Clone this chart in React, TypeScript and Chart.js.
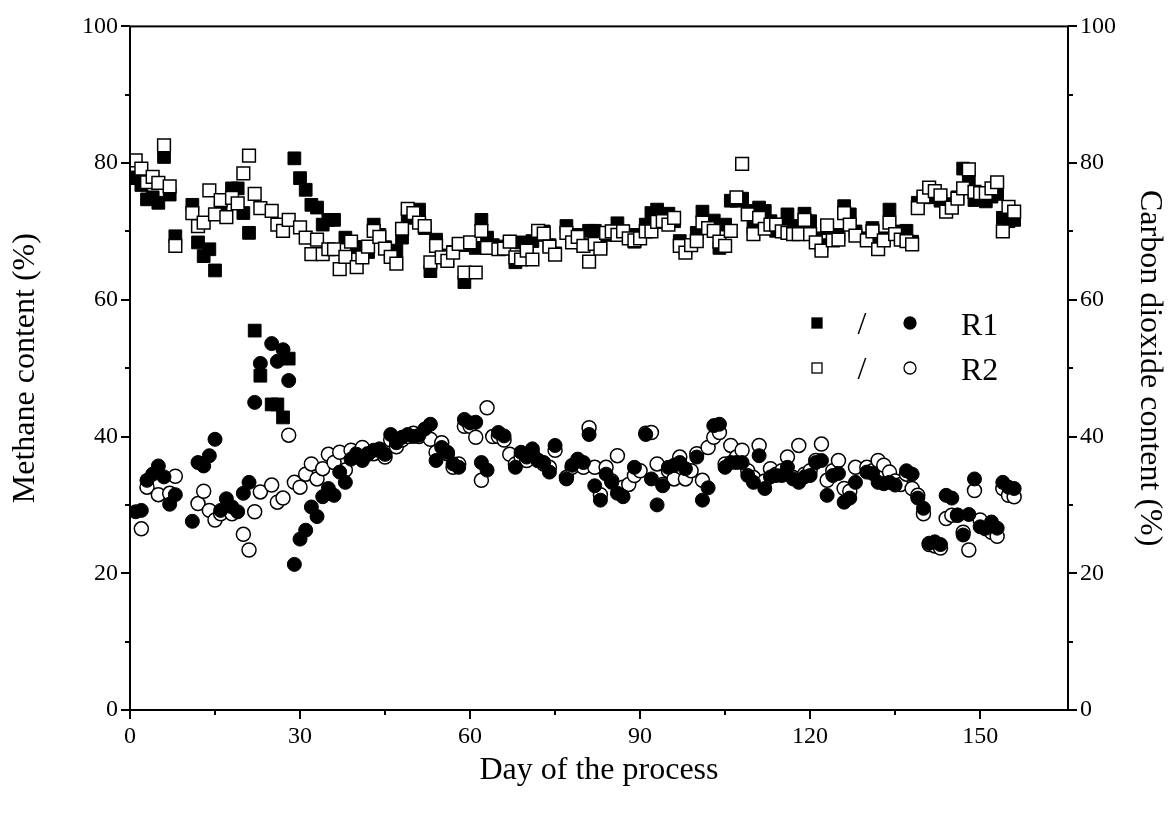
import React, { useEffect, useRef } from "react";
import { Chart, registerables } from "chart.js";

Chart.register(...registerables);

// ---- Data (day of the process, content in %) ----
const r1MethaneDays = [0, 1, 2, 3, 4, 5, 6, 7, 8, 11, 12, 13, 14, 15, 16, 18, 19, 20, 21, 22, 23, 25, 26, 27, 28, 29, 30, 31, 32, 33, 34, 35, 36, 38, 40, 41, 42, 43, 44, 45, 46, 47, 48, 49, 50, 51, 52, 53, 54, 55, 56, 57, 58, 59, 60, 61, 62, 63, 64, 65, 66, 67, 68, 69, 70, 71, 72, 73, 74, 75, 77, 78, 79, 80, 81, 82, 83, 84, 85, 86, 87, 88, 89, 90, 91, 92, 93, 94, 95, 96, 97, 98, 99, 100, 101, 102, 103, 104, 105, 106, 107, 108, 109, 110, 111, 112, 113, 114, 115, 116, 117, 118, 119, 120, 121, 122, 123, 124, 125, 126, 127, 128, 130, 131, 132, 133, 134, 135, 136, 137, 138, 139, 140, 141, 142, 143, 144, 145, 146, 147, 148, 149, 150, 151, 152, 153, 154, 155, 156];
const r1MethaneValues = [77.8, 77.9, 76.8, 74.7, 75.0, 74.2, 80.9, 75.4, 69.3, 73.9, 68.4, 66.4, 67.4, 64.3, 73.4, 76.3, 76.3, 72.7, 69.8, 55.5, 48.9, 44.7, 44.7, 42.8, 51.4, 80.7, 77.8, 76.1, 73.9, 73.5, 71.0, 71.7, 71.7, 69.1, 67.7, 67.7, 67.0, 71.0, 69.5, 67.7, 66.5, 67.2, 69.1, 72.0, 72.5, 73.2, 70.5, 64.2, 68.8, 66.5, 65.8, 67.0, 68.0, 62.6, 68.0, 67.6, 71.7, 69.1, 68.0, 67.8, 67.5, 68.5, 65.5, 68.4, 67.0, 68.6, 69.5, 70.0, 68.0, 66.8, 70.8, 68.5, 69.5, 68.0, 70.1, 70.1, 68.0, 69.5, 70.0, 71.2, 70.0, 69.5, 68.5, 69.5, 71.0, 72.7, 73.2, 71.5, 72.6, 71.5, 68.6, 67.5, 68.0, 69.8, 72.9, 70.5, 71.6, 67.6, 71.0, 74.5, 74.5, 74.8, 73.0, 70.5, 73.5, 73.0, 71.5, 70.1, 71.0, 72.5, 70.8, 70.0, 72.6, 71.5, 69.0, 68.0, 70.5, 69.0, 69.5, 73.7, 72.5, 70.0, 69.0, 70.5, 68.0, 69.0, 73.2, 70.0, 69.0, 70.1, 68.5, 74.2, 75.0, 75.5, 75.0, 74.5, 73.5, 74.0, 75.0, 79.2, 77.7, 74.6, 75.0, 74.4, 75.1, 75.5, 72.0, 71.5, 71.7];

const r2MethaneDays = [1, 2, 3, 4, 5, 6, 7, 8, 11, 12, 13, 14, 15, 16, 17, 18, 19, 20, 21, 22, 23, 25, 26, 27, 28, 30, 31, 32, 33, 34, 35, 36, 37, 38, 39, 40, 41, 42, 43, 44, 45, 46, 47, 48, 49, 50, 51, 52, 53, 54, 55, 56, 57, 58, 59, 60, 61, 62, 63, 65, 66, 67, 68, 69, 70, 71, 72, 73, 74, 75, 77, 78, 79, 80, 81, 82, 83, 84, 85, 86, 87, 88, 89, 90, 91, 92, 93, 94, 95, 96, 97, 98, 99, 100, 101, 102, 103, 104, 105, 106, 107, 108, 109, 110, 111, 112, 113, 114, 115, 116, 117, 118, 119, 120, 121, 122, 123, 124, 125, 126, 127, 128, 130, 131, 132, 133, 134, 135, 136, 137, 138, 139, 140, 141, 142, 143, 144, 145, 146, 147, 148, 149, 150, 151, 152, 153, 154, 155, 156];
const r2MethaneValues = [80.4, 79.2, 77.2, 78.0, 77.1, 82.6, 76.6, 67.9, 72.7, 70.8, 71.3, 76.0, 72.5, 74.6, 72.1, 74.9, 74.1, 78.5, 81.1, 75.5, 73.4, 73.0, 71.0, 70.1, 71.7, 70.6, 69.1, 66.7, 68.8, 66.7, 67.4, 67.4, 64.5, 66.3, 68.5, 64.8, 66.2, 67.8, 70.1, 69.2, 67.5, 66.3, 65.3, 70.4, 73.3, 72.7, 71.3, 70.8, 65.5, 67.9, 66.2, 65.7, 66.9, 68.2, 64.0, 68.4, 64.0, 70.1, 67.6, 67.4, 67.5, 68.5, 66.2, 65.9, 67.2, 65.9, 70.1, 69.7, 67.8, 66.6, 69.8, 68.4, 69.2, 67.9, 65.6, 68.2, 67.5, 69.8, 70.0, 69.5, 70.0, 69.0, 68.7, 69.0, 70.0, 70.0, 71.4, 71.5, 71.0, 72.0, 67.9, 66.9, 68.0, 68.6, 71.3, 70.5, 70.1, 68.5, 67.9, 70.1, 75.0, 79.9, 72.5, 69.6, 72.0, 70.4, 71.0, 71.0, 70.0, 69.8, 69.6, 69.6, 71.7, 69.6, 68.4, 67.2, 70.9, 68.7, 68.8, 72.7, 71.0, 69.4, 68.7, 70.0, 67.4, 68.7, 71.3, 69.6, 68.8, 68.6, 68.1, 73.4, 75.1, 76.4, 75.9, 75.3, 72.9, 73.5, 74.8, 76.3, 79.1, 75.8, 75.6, 75.6, 76.3, 77.2, 70.0, 73.6, 72.9];

const r1CarbonDays = [1, 2, 3, 4, 5, 6, 7, 8, 11, 12, 13, 14, 15, 16, 17, 18, 19, 20, 21, 22, 23, 25, 26, 27, 28, 29, 30, 31, 32, 33, 34, 35, 36, 37, 38, 39, 40, 41, 42, 43, 44, 45, 46, 47, 48, 49, 50, 51, 52, 53, 54, 55, 56, 57, 58, 59, 60, 61, 62, 63, 65, 66, 68, 69, 70, 71, 72, 73, 74, 75, 77, 78, 79, 80, 81, 82, 83, 84, 85, 86, 87, 89, 91, 92, 93, 94, 95, 96, 97, 98, 100, 101, 102, 103, 104, 105, 106, 107, 108, 109, 110, 111, 112, 113, 114, 115, 116, 117, 118, 119, 120, 121, 122, 123, 124, 125, 126, 127, 128, 130, 131, 132, 133, 134, 135, 137, 138, 139, 140, 141, 142, 143, 144, 145, 146, 147, 148, 149, 150, 151, 152, 153, 154, 155, 156];
const r1CarbonValues = [29.0, 29.2, 33.6, 34.5, 35.7, 34.1, 30.1, 31.5, 27.6, 36.2, 35.7, 37.2, 39.6, 29.2, 30.9, 29.7, 29.0, 31.7, 33.3, 45.0, 50.7, 53.6, 51.0, 52.7, 48.2, 21.3, 25.0, 26.3, 29.7, 28.3, 31.2, 32.4, 31.4, 34.8, 33.3, 36.7, 37.4, 36.5, 37.4, 38.0, 38.2, 37.4, 40.3, 39.1, 39.9, 40.3, 40.0, 40.2, 41.1, 41.8, 36.5, 38.4, 37.7, 36.0, 35.5, 42.5, 42.0, 42.1, 36.2, 35.1, 40.6, 40.1, 35.5, 37.7, 37.0, 38.2, 36.5, 36.2, 34.8, 38.7, 33.8, 35.8, 36.7, 36.2, 40.3, 32.8, 30.7, 34.5, 33.3, 31.7, 31.2, 35.5, 40.3, 33.8, 30.0, 32.8, 35.5, 35.8, 36.2, 35.3, 37.0, 30.7, 32.5, 41.6, 41.8, 35.5, 36.2, 36.2, 36.2, 34.3, 33.3, 37.2, 32.4, 34.1, 34.3, 34.3, 35.5, 33.8, 33.3, 34.1, 34.3, 36.2, 36.5, 31.4, 34.3, 34.6, 30.4, 31.0, 33.3, 34.8, 34.6, 33.3, 33.1, 33.3, 32.9, 35.0, 34.5, 31.0, 29.5, 24.4, 24.6, 24.2, 31.4, 31.0, 28.5, 25.6, 28.6, 33.8, 26.8, 26.6, 27.5, 26.6, 33.3, 32.6, 32.4];

const r2CarbonDays = [2, 3, 5, 7, 8, 12, 13, 14, 15, 16, 18, 20, 21, 22, 23, 25, 26, 27, 28, 29, 30, 31, 32, 33, 34, 35, 36, 37, 38, 39, 40, 41, 42, 43, 44, 45, 46, 47, 48, 49, 50, 51, 52, 53, 54, 55, 56, 57, 58, 59, 60, 61, 62, 63, 64, 65, 66, 67, 68, 69, 70, 71, 72, 73, 74, 75, 77, 78, 79, 80, 81, 82, 83, 84, 85, 86, 87, 88, 89, 90, 91, 92, 93, 94, 95, 96, 97, 98, 99, 100, 101, 102, 103, 104, 105, 106, 107, 108, 109, 110, 111, 112, 113, 114, 115, 116, 117, 118, 119, 120, 121, 122, 123, 124, 125, 126, 127, 128, 130, 131, 132, 133, 134, 135, 136, 137, 138, 139, 140, 141, 142, 143, 144, 145, 146, 147, 148, 149, 150, 151, 152, 153, 154, 155, 156];
const r2CarbonValues = [26.5, 32.6, 31.5, 31.7, 34.2, 30.2, 32.0, 29.2, 27.8, 28.7, 28.7, 25.7, 23.4, 29.0, 31.9, 32.9, 30.4, 31.0, 40.2, 33.3, 32.6, 34.5, 36.0, 33.8, 35.3, 37.4, 36.2, 37.7, 35.1, 38.0, 37.5, 38.4, 37.5, 37.5, 38.0, 37.0, 39.5, 38.5, 39.5, 40.0, 40.5, 40.0, 40.5, 39.6, 37.7, 39.1, 37.5, 35.5, 36.0, 41.5, 41.5, 39.9, 33.6, 44.2, 40.0, 40.0, 39.5, 37.4, 36.0, 37.0, 36.5, 37.5, 36.5, 36.0, 35.5, 38.0, 34.0, 35.5, 36.0, 35.5, 41.3, 35.5, 31.5, 35.5, 33.5, 37.2, 32.6, 33.0, 34.3, 35.0, 40.5, 40.6, 36.0, 33.0, 35.0, 33.8, 37.0, 33.8, 35.0, 37.5, 33.6, 38.4, 39.9, 40.6, 36.0, 38.7, 37.0, 38.0, 35.0, 34.0, 38.7, 33.5, 35.3, 34.5, 35.0, 37.0, 34.0, 38.7, 34.5, 35.0, 36.5, 38.9, 33.6, 35.0, 36.5, 32.4, 32.0, 35.5, 35.5, 35.0, 36.5, 35.8, 34.8, 33.5, 33.0, 34.5, 32.4, 31.4, 28.7, 24.2, 24.0, 23.7, 28.0, 28.5, 28.5, 26.0, 23.4, 32.1, 27.8, 26.5, 26.0, 25.4, 32.4, 31.4, 31.2];

// ---- Axis ticks ----
const xMajorTicks = [0, 30, 60, 90, 120, 150];
const xMinorTicks = [15, 45, 75, 105, 135];
const yMajorTicks = [0, 20, 40, 60, 80, 100];
const yMinorTicks = [10, 30, 50, 70, 90];
const xMax = 165.5;

const SERIF = "'Liberation Serif', 'Times New Roman', serif";

const toPoints = (days: number[], vals: number[]) => days.map((d, i) => ({ x: d, y: vals[i] }));

const framePlugin = {
  id: "frameTicksLegend",
  afterDraw(chart: any) {
    const { ctx, chartArea, scales } = chart;
    const { left, right, top, bottom } = chartArea;
    ctx.save();
    ctx.strokeStyle = "#000";
    ctx.lineWidth = 2;
    ctx.strokeRect(left, top, right - left, bottom - top);
    const line = (x1: number, y1: number, x2: number, y2: number) => {
      ctx.beginPath();
      ctx.moveTo(x1, y1);
      ctx.lineTo(x2, y2);
      ctx.stroke();
    };
    xMajorTicks.forEach((v) => {
      const p = Math.round(scales.x.getPixelForValue(v));
      line(p, bottom, p, bottom + 9);
    });
    xMinorTicks.forEach((v) => {
      const p = Math.round(scales.x.getPixelForValue(v));
      line(p, bottom, p, bottom + 5);
    });
    yMajorTicks.forEach((v) => {
      const p = Math.round(scales.y.getPixelForValue(v));
      line(left, p, left - 9, p);
      line(right, p, right + 9, p);
    });
    yMinorTicks.forEach((v) => {
      const p = Math.round(scales.y.getPixelForValue(v));
      line(left, p, left - 5, p);
      line(right, p, right + 5, p);
    });

    // legend
    const rows = [
      { y: 323, filled: true, label: "R1" },
      { y: 368, filled: false, label: "R2" },
    ];
    ctx.font = `32px ${SERIF}`;
    ctx.textBaseline = "alphabetic";
    rows.forEach((r) => {
      ctx.lineWidth = 1.3;
      ctx.fillStyle = r.filled ? "#000" : "#fff";
      ctx.fillRect(812, r.y - 5, 10, 10);
      ctx.strokeRect(812, r.y - 5, 10, 10);
      ctx.beginPath();
      ctx.arc(910, r.y, 6, 0, Math.PI * 2);
      ctx.fill();
      ctx.stroke();
      ctx.fillStyle = "#000";
      ctx.textAlign = "center";
      ctx.fillText("/", 862, r.y + 11);
      ctx.textAlign = "left";
      ctx.fillText(r.label, 961, r.y + 12);
    });
    ctx.restore();
  },
};

export default function App() {
  const ref = useRef<HTMLCanvasElement | null>(null);

  useEffect(() => {
    if (!ref.current) return;
    const filledCircle = { pointStyle: "circle", pointRadius: 7, backgroundColor: "#000", borderColor: "#000", borderWidth: 1 };
    const openCircle = { pointStyle: "circle", pointRadius: 7, backgroundColor: "#fff", borderColor: "#000", borderWidth: 1.5 };
    const filledSquare = { pointStyle: "rect", pointRadius: 9, backgroundColor: "#000", borderColor: "#000", borderWidth: 1 };
    const openSquare = { pointStyle: "rect", pointRadius: 9, backgroundColor: "#fff", borderColor: "#000", borderWidth: 1.5 };
    const tickFont = { family: SERIF, size: 24 };
    const titleFont = { family: SERIF, size: 32 };
    const chart = new Chart(ref.current, {
      type: "scatter",
      data: {
        datasets: [
          { label: "R1 CO2", data: toPoints(r1CarbonDays, r1CarbonValues), yAxisID: "y2", ...filledCircle },
          { label: "R2 CO2", data: toPoints(r2CarbonDays, r2CarbonValues), yAxisID: "y2", ...openCircle },
          { label: "R2 CH4", data: toPoints(r2MethaneDays, r2MethaneValues), yAxisID: "y", ...openSquare },
          { label: "R1 CH4", data: toPoints(r1MethaneDays, r1MethaneValues), yAxisID: "y", ...filledSquare },
        ] as any,
      },
      options: {
        animation: false,
        responsive: false,
        devicePixelRatio: 1,
        events: [],
        layout: { padding: { top: 20, left: 0, right: 0, bottom: 0 } },
        plugins: { legend: { display: false }, tooltip: { enabled: false } },
        scales: {
          x: {
            type: "linear",
            min: 0,
            max: xMax,
            grid: { display: false, drawTicks: false },
            border: { display: false },
            afterBuildTicks: (s: any) => {
              s.ticks = xMajorTicks.map((value) => ({ value }));
            },
            afterFit: (s: any) => {
              s.height = 104;
            },
            ticks: { padding: 12, color: "#000", font: tickFont, maxRotation: 0 },
            title: {
              display: true,
              text: "Day of the process",
              color: "#000",
              font: titleFont,
              padding: { top: 0, bottom: 24 },
            },
          },
          y: {
            type: "linear",
            position: "left",
            min: 0,
            max: 100,
            grid: { display: false, drawTicks: false },
            border: { display: false },
            afterBuildTicks: (s: any) => {
              s.ticks = yMajorTicks.map((value) => ({ value }));
            },
            afterFit: (s: any) => {
              s.width = 130;
            },
            ticks: { padding: 12, color: "#000", font: tickFont },
            title: {
              display: true,
              text: "Methane content (%)",
              color: "#000",
              font: titleFont,
              padding: { top: 6, bottom: 0 },
            },
          },
          y2: {
            type: "linear",
            position: "right",
            min: 0,
            max: 100,
            grid: { display: false, drawTicks: false },
            border: { display: false },
            afterBuildTicks: (s: any) => {
              s.ticks = yMajorTicks.map((value) => ({ value }));
            },
            afterFit: (s: any) => {
              s.width = 101;
            },
            ticks: { padding: 12, color: "#000", font: tickFont },
            title: {
              display: true,
              text: "Carbon dioxide content (%)",
              color: "#000",
              font: titleFont,
              padding: { top: 0, bottom: 0 },
            },
          },
        },
      } as any,
      plugins: [framePlugin],
    });
    return () => chart.destroy();
  }, []);

  return (
    <div style={{ position: "absolute", left: 0, top: 0, width: 1169, height: 814, background: "#fff" }}>
      <canvas ref={ref} width={1169} height={814} style={{ width: 1169, height: 814, display: "block" }} />
    </div>
  );
}
